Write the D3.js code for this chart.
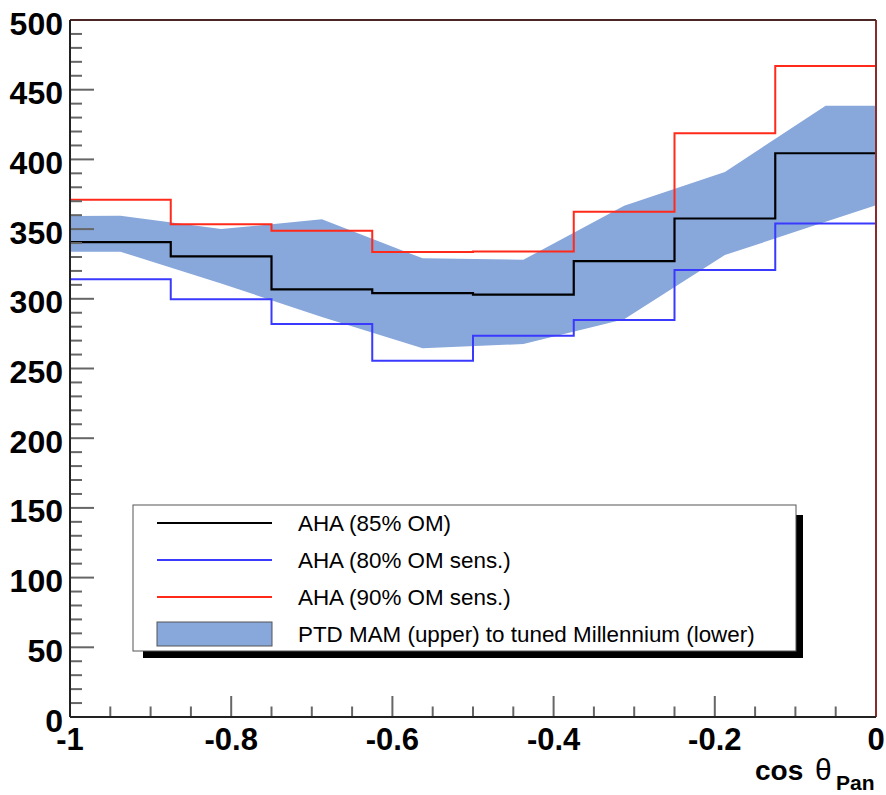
<!DOCTYPE html>
<html><head><meta charset="utf-8">
<script src="https://cdn.jsdelivr.net/npm/d3@7"></script>
<style>
html,body{margin:0;padding:0;background:#fff;}
svg{display:block;font-family:"Liberation Sans",Arial,Helvetica,sans-serif;}
</style></head>
<body>
<svg id="chart" width="886" height="795"></svg>
<script>
// ---- data ----
const binEdges = [-1, -0.875, -0.75, -0.625, -0.5, -0.375, -0.25, -0.125, 0];
const aha85 = [340.7, 330.5, 306.8, 304, 303, 327, 357.6, 404.4];
const aha80 = [314, 299.6, 282, 255.6, 273.5, 284.8, 320.7, 354.1];
const aha90 = [371, 353.4, 348.8, 333.5, 334, 362.5, 418.7, 467];
const bandX = [-1.0625, -0.9375, -0.8125, -0.6875, -0.5625, -0.4375, -0.3125, -0.1875, -0.0625, 0.0625];
const bandUpper = [359.3, 359.5, 350, 357, 329, 328, 366.8, 391, 438.5, 438.5];
const bandLower = [333.8, 333.8, 311, 287, 264.5, 267.6, 285.3, 331.4, 355.2, 379];
const yTicks = [0, 50, 100, 150, 200, 250, 300, 350, 400, 450, 500];
const xTicks = [-1, -0.8, -0.6, -0.4, -0.2, 0];
const xTickLabels = ["-1", "-0.8", "-0.6", "-0.4", "-0.2", "0"];
const legendLabels = ["AHA (85% OM)", "AHA (80% OM sens.)", "AHA (90% OM sens.)", "PTD MAM (upper) to tuned Millennium (lower)"];
const colors = {aha85: "#000000", aha80: "#3a3aff", aha90: "#ff2a1a", band: "#88a7db"};

// ---- layout ----
const L = 70, R = 876, T = 20, B = 717;
const svg = d3.select("#chart");
const x = d3.scaleLinear().domain([-1, 0]).range([L, R]);
const y = d3.scaleLinear().domain([0, 500]).range([B, T]);

svg.append("defs").append("clipPath").attr("id", "clip")
  .append("rect").attr("x", L).attr("y", T).attr("width", R - L).attr("height", B - T);

// band
const bandData = bandX.map((v, i) => ({x: v, u: bandUpper[i], l: bandLower[i]}));
svg.append("path").datum(bandData).attr("clip-path", "url(#clip)")
  .attr("fill", colors.band)
  .attr("d", d3.area().x(d => x(d.x)).y0(d => y(d.l)).y1(d => y(d.u)));

// step histograms
function stepPts(vals) {
  const pts = vals.map((v, i) => [binEdges[i], v]);
  pts.push([binEdges[binEdges.length - 1], vals[vals.length - 1]]);
  return pts;
}
const stepLine = d3.line().x(d => x(d[0])).y(d => y(d[1])).curve(d3.curveStepAfter);
[[aha80, colors.aha80, 2], [aha90, colors.aha90, 2], [aha85, colors.aha85, 2.2]].forEach(([vals, c, w]) => {
  svg.append("path").datum(stepPts(vals)).attr("fill", "none")
    .attr("stroke", c).attr("stroke-width", w).attr("d", stepLine);
});

// axes: ticks
const yMinor = d3.range(0, 501, 10).filter(v => v % 50 !== 0);
const xMinor = d3.range(-1, 0.0001, 0.05).filter(v => Math.abs(Math.round(v * 5) - v * 5) > 1e-6);
const gy = svg.append("g");
gy.selectAll("line.mj").data(yTicks).join("line")
  .attr("x1", L).attr("x2", L + 24).attr("y1", d => y(d)).attr("y2", d => y(d))
  .attr("stroke", "#666").attr("stroke-width", 2);
gy.selectAll("line.mn").data(yMinor).join("line")
  .attr("x1", L).attr("x2", L + 12).attr("y1", d => y(d)).attr("y2", d => y(d))
  .attr("stroke", "#666").attr("stroke-width", 2);
const gx = svg.append("g");
gx.selectAll("line.mj").data(xTicks).join("line")
  .attr("y1", B).attr("y2", B - 21).attr("x1", d => x(d)).attr("x2", d => x(d))
  .attr("stroke", "#666").attr("stroke-width", 2);
gx.selectAll("line.mn").data(xMinor).join("line")
  .attr("y1", B).attr("y2", B - 10.5).attr("x1", d => x(d)).attr("x2", d => x(d))
  .attr("stroke", "#666").attr("stroke-width", 2);

// frame
svg.append("line").attr("x1", R).attr("x2", R).attr("y1", T).attr("y2", B).attr("stroke", "#8a2a2a").attr("stroke-width", 2);
svg.append("line").attr("x1", L).attr("x2", R).attr("y1", T).attr("y2", T).attr("stroke", "#4a2626").attr("stroke-width", 2);
svg.append("line").attr("x1", L).attr("x2", L).attr("y1", T).attr("y2", B).attr("stroke", "#222").attr("stroke-width", 2);
svg.append("line").attr("x1", L).attr("x2", R).attr("y1", B).attr("y2", B).attr("stroke", "#222").attr("stroke-width", 2);

// tick labels
svg.append("g").selectAll("text").data(yTicks).join("text")
  .attr("x", 63).attr("y", d => y(d) + 3).attr("dy", "0.36em")
  .attr("text-anchor", "end").attr("font-size", 32).attr("font-weight", "bold")
  .text(d => d);
svg.append("g").selectAll("text").data(xTicks).join("text")
  .attr("x", d => x(d)).attr("y", 750)
  .attr("text-anchor", "middle").attr("font-size", 31).attr("font-weight", "bold")
  .text((d, i) => xTickLabels[i]);

// axis title
const t = svg.append("text").attr("x", 755).attr("y", 780)
  .attr("font-weight", "bold").attr("font-size", 28);
t.append("tspan").text("cos");
t.append("tspan").attr("x", 815).attr("font-weight", "normal").attr("font-size", 30).text("θ");
t.append("tspan").attr("x", 836).attr("font-size", 21).attr("dy", 10).text("Pan");

// legend
const lg = svg.append("g");
lg.append("rect").attr("x", 143).attr("y", 515).attr("width", 660).attr("height", 143).attr("fill", "#000");
lg.append("rect").attr("x", 133).attr("y", 505).attr("width", 663).attr("height", 146)
  .attr("fill", "#fff").attr("stroke", "#555").attr("stroke-width", 1);
const rowsY = [523, 560, 597, 634];
const lineColors = [colors.aha85, colors.aha80, colors.aha90];
lineColors.forEach((c, i) => {
  lg.append("line").attr("x1", 157).attr("x2", 272).attr("y1", rowsY[i]).attr("y2", rowsY[i])
    .attr("stroke", c).attr("stroke-width", 2);
});
lg.append("rect").attr("x", 157).attr("y", 622).attr("width", 115).attr("height", 24)
  .attr("fill", colors.band).attr("stroke", "#555").attr("stroke-width", 1);
lg.selectAll("text.l").data(legendLabels).join("text")
  .attr("x", 298).attr("y", (d, i) => rowsY[i]).attr("dy", "0.35em")
  .attr("font-size", 22.4).attr("fill", "#000").text(d => d);
</script>
</body></html>
